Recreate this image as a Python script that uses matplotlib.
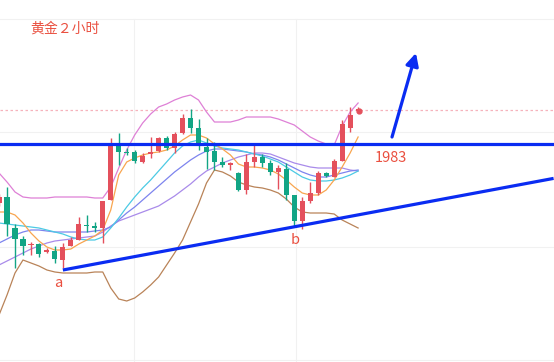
import numpy as np
import matplotlib
matplotlib.use("Agg")
import matplotlib.pyplot as plt

plt.rcParams['font.family'] = ['Noto Sans CJK SC', 'DejaVu Sans']

# 2-hour gold candles (oldest first)
opens = [1953.5, 1956.5, 1941, 1935.5, 1932.5, 1933, 1929, 1929.5, 1925, 1932,
         1935, 1942.5, 1942, 1941, 1955, 1982.5, 1979, 1979, 1974, 1978,
         1979.5, 1986, 1981, 1988.5, 1996, 1991, 1981.5, 1979.5, 1974, 1972.5,
         1968.5, 1960, 1974, 1976.5, 1973.5, 1969, 1970.5, 1957.5, 1944.5, 1954.5,
         1958.5, 1968.5, 1966.5, 1974.5, 1991, 1999.5]
highs = [1958, 1961.5, 1943, 1937, 1934, 1933.5, 1931, 1932, 1933.5, 1936.5,
         1946.5, 1947.5, 1944, 1954.5, 1986, 1988.5, 1981, 1980, 1978.5, 1986.5,
         1986.5, 1987, 1989, 1998, 2000.5, 1995.5, 1986, 1984, 1976.5, 1974,
         1969, 1978, 1982.5, 1978, 1975, 1972.5, 1973.5, 1957.5, 1956.5, 1964,
         1969.5, 1969, 1975.5, 1995, 2001.5, 2001.5]
lows = [1952, 1937, 1921, 1927.5, 1927.5, 1926.5, 1928.5, 1923.5, 1921, 1932,
        1935, 1939, 1939, 1933.5, 1955, 1972.5, 1977.5, 1973.5, 1973.5, 1976,
        1979, 1980, 1978.5, 1988, 1988.5, 1980, 1970.5, 1970, 1971.5, 1970,
        1959.5, 1958, 1971.5, 1971.5, 1967.5, 1960.5, 1955, 1941.5, 1940.5, 1953.5,
        1957.5, 1966.5, 1966.5, 1974.5, 1989, 1999.5]
closes = [1956.5, 1943, 1935.5, 1932, 1933, 1928, 1930, 1925.5, 1931.5, 1935,
          1943, 1942, 1941, 1954.5, 1982.5, 1979, 1978.5, 1974.5, 1977, 1979,
          1986, 1981, 1988, 1996, 1991, 1982, 1979, 1974, 1972.5, 1973.5,
          1960, 1974, 1976.5, 1973.5, 1969, 1971, 1957.5, 1944.5, 1954.5, 1958.5,
          1968.5, 1967, 1974.5, 1993, 1997.5, 2000.5]

boll_upper = [1968.5, 1964, 1959, 1956.5, 1956, 1956, 1956, 1956.5, 1956.5, 1956.5,
              1956.5, 1956.5, 1956, 1956, 1961.5, 1971, 1980, 1987.5, 1993.5, 1998,
              2001.5, 2003, 2005, 2006.5, 2007.5, 2005, 1999, 1994, 1994, 1994,
              1995, 1996.5, 1996.5, 1996.5, 1996.5, 1995.5, 1994, 1992.5, 1989.5, 1986.5,
              1984.5, 1983, 1982.5, 1992, 1999, 2003.5]
boll_lower = [1897.5, 1907.5, 1918.5, 1925, 1923.5, 1922, 1920, 1919, 1918.5, 1918.5,
              1918.5, 1918.5, 1919, 1919, 1911, 1905.5, 1904.5, 1906, 1909, 1912.5,
              1916.5, 1922.5, 1928.5, 1935, 1944, 1953, 1963.5, 1970, 1969, 1967,
              1964, 1962.5, 1961.5, 1961, 1960, 1958.5, 1955.5, 1951.5, 1949, 1948.5,
              1948.5, 1948.5, 1948, 1945, 1943, 1941]
ma_fast = [1949, 1949, 1947.5, 1943.5, 1938.5, 1934.5, 1931.5, 1930, 1930, 1930.5,
           1933, 1935, 1937, 1940, 1950, 1967.5, 1974, 1976, 1977.5, 1978.5,
           1979, 1980, 1982, 1985, 1987.5, 1987.5, 1986, 1983, 1980.5, 1977.5,
           1973, 1971.5, 1971.5, 1971, 1970, 1968, 1965, 1961.5, 1958.5, 1957.5,
           1957.5, 1960, 1965, 1971.5, 1978.5, 1986.5]
ma_cyan = [1943.5, 1943, 1942.5, 1942, 1941.5, 1941, 1940, 1939, 1938, 1936.5,
           1935.5, 1935, 1935, 1936.5, 1941, 1946, 1951.5, 1956.5, 1961, 1965,
           1969.5, 1974, 1978.5, 1982, 1984, 1985, 1983.5, 1982, 1981, 1980.5,
           1980, 1979, 1978, 1977, 1975.5, 1974, 1971.5, 1969, 1966.5, 1965,
           1964.5, 1964.5, 1965, 1966, 1967.5, 1969.5]
ma_blue = [1933.5, 1935.5, 1937.5, 1939, 1940, 1940, 1939.5, 1939, 1939, 1939,
           1939, 1939, 1939.5, 1940, 1941.5, 1945, 1948.5, 1951.5, 1955, 1958.5,
           1962, 1965.5, 1969, 1972, 1975, 1977.5, 1979.5, 1980.5, 1980.5, 1980,
           1979.5, 1979, 1978, 1977.5, 1976.5, 1975, 1973, 1971, 1969, 1967.5,
           1966.5, 1966.5, 1967.5, 1968.5, 1969.5, 1970]
ma_purple = [1922.5, 1924.5, 1926.5, 1928.5, 1930.5, 1932, 1933.5, 1934.5, 1935, 1935.5,
             1936, 1936.5, 1937, 1939, 1942, 1944.5, 1946, 1947.5, 1949, 1950.5,
             1952, 1954.5, 1957, 1960, 1963, 1966.5, 1969.5, 1971.5, 1973.5, 1975,
             1976.5, 1977.5, 1978.5, 1978.5, 1978, 1976.5, 1975, 1973.5, 1972.5, 1971.5,
             1971, 1971, 1971, 1971, 1970, 1969.5]

level = 1983
last_price = 2000.5
trend_x = [8, 69.5]
trend_y = [1920, 1965.8]
arrow_from = (49.25, 1986.5)
arrow_to = (52.25, 2028.5)
grid_prices = [2045.5, 1989, 1931.5, 1875]
grid_times = [16.9, 37.2]

up_col = '#E4505C'
down_col = '#12A585'
txt_col = '#EA5040'

fig = plt.figure(figsize=(5.54, 3.62), dpi=100)
ax = fig.add_axes([0, 0, 1, 1])
ax.set_xlim(0.12, 69.55)
ax.set_ylim(1874, 2055)
ax.axis('off')

for p in grid_prices:
    ax.axhline(p, color='#F1F1F1', lw=0.8, zorder=0)
for t in grid_times:
    ax.plot([t, t], [1874, grid_prices[0]], color='#F1F1F1', lw=0.8, zorder=0)

ax.axhline(last_price - 0.5, color='#F6B3BC', lw=0.9, ls=(0, (2, 2)), zorder=1)

x = np.arange(len(opens))
ax.plot(x, boll_upper, color='#DE80D6', lw=0.9, zorder=2)
ax.plot(x, boll_lower, color='#B98358', lw=0.9, zorder=2)
ax.plot(x, ma_purple, color='#A98BEA', lw=0.9, zorder=2)
ax.plot(x, ma_blue, color='#7D84EE', lw=0.9, zorder=2)
ax.plot(x, ma_cyan, color='#4CCAE4', lw=0.9, zorder=2)
ax.plot(x, ma_fast, color='#F8A54F', lw=0.9, zorder=2)

o = np.array(opens)
c = np.array(closes)
cols = [up_col if cc >= oo else down_col for oo, cc in zip(o, c)]
ax.vlines(x, lows, highs, colors=cols, lw=1.0, zorder=3)
body = np.maximum(np.abs(c - o), 0.5)
ax.bar(x, body, bottom=np.minimum(o, c), width=0.64, color=cols, zorder=4, linewidth=0)
ax.plot(x[-1] + 0.15, last_price - 0.8, 'o', color=up_col, ms=3.5, zorder=5)

ax.axhline(level, color='#0A2CF2', lw=2.3, zorder=6)
ax.plot(trend_x, trend_y, color='#0A2CF2', lw=2.3, zorder=6, solid_capstyle='butt')
ax.annotate('', xy=arrow_to, xytext=arrow_from,
            arrowprops=dict(arrowstyle='-|>,head_length=0.75,head_width=0.38',
                            color='#0A2CF2', lw=2.3, shrinkA=0, shrinkB=0),
            zorder=6)

ax.text(49.1, 1976, '1983', color=txt_col, fontsize=10.5, ha='center', va='center')
ax.text(7.4, 1913.5, 'a', color=txt_col, fontsize=10.5, ha='center', va='center')
ax.text(37.1, 1935, 'b', color=txt_col, fontsize=10.5, ha='center', va='center')
fig.text(30 / 554, 1 - 29 / 362, '黄金２小时', color=txt_col, fontsize=10,
         ha='left', va='center')

fig.savefig('out.png', dpi=100)
